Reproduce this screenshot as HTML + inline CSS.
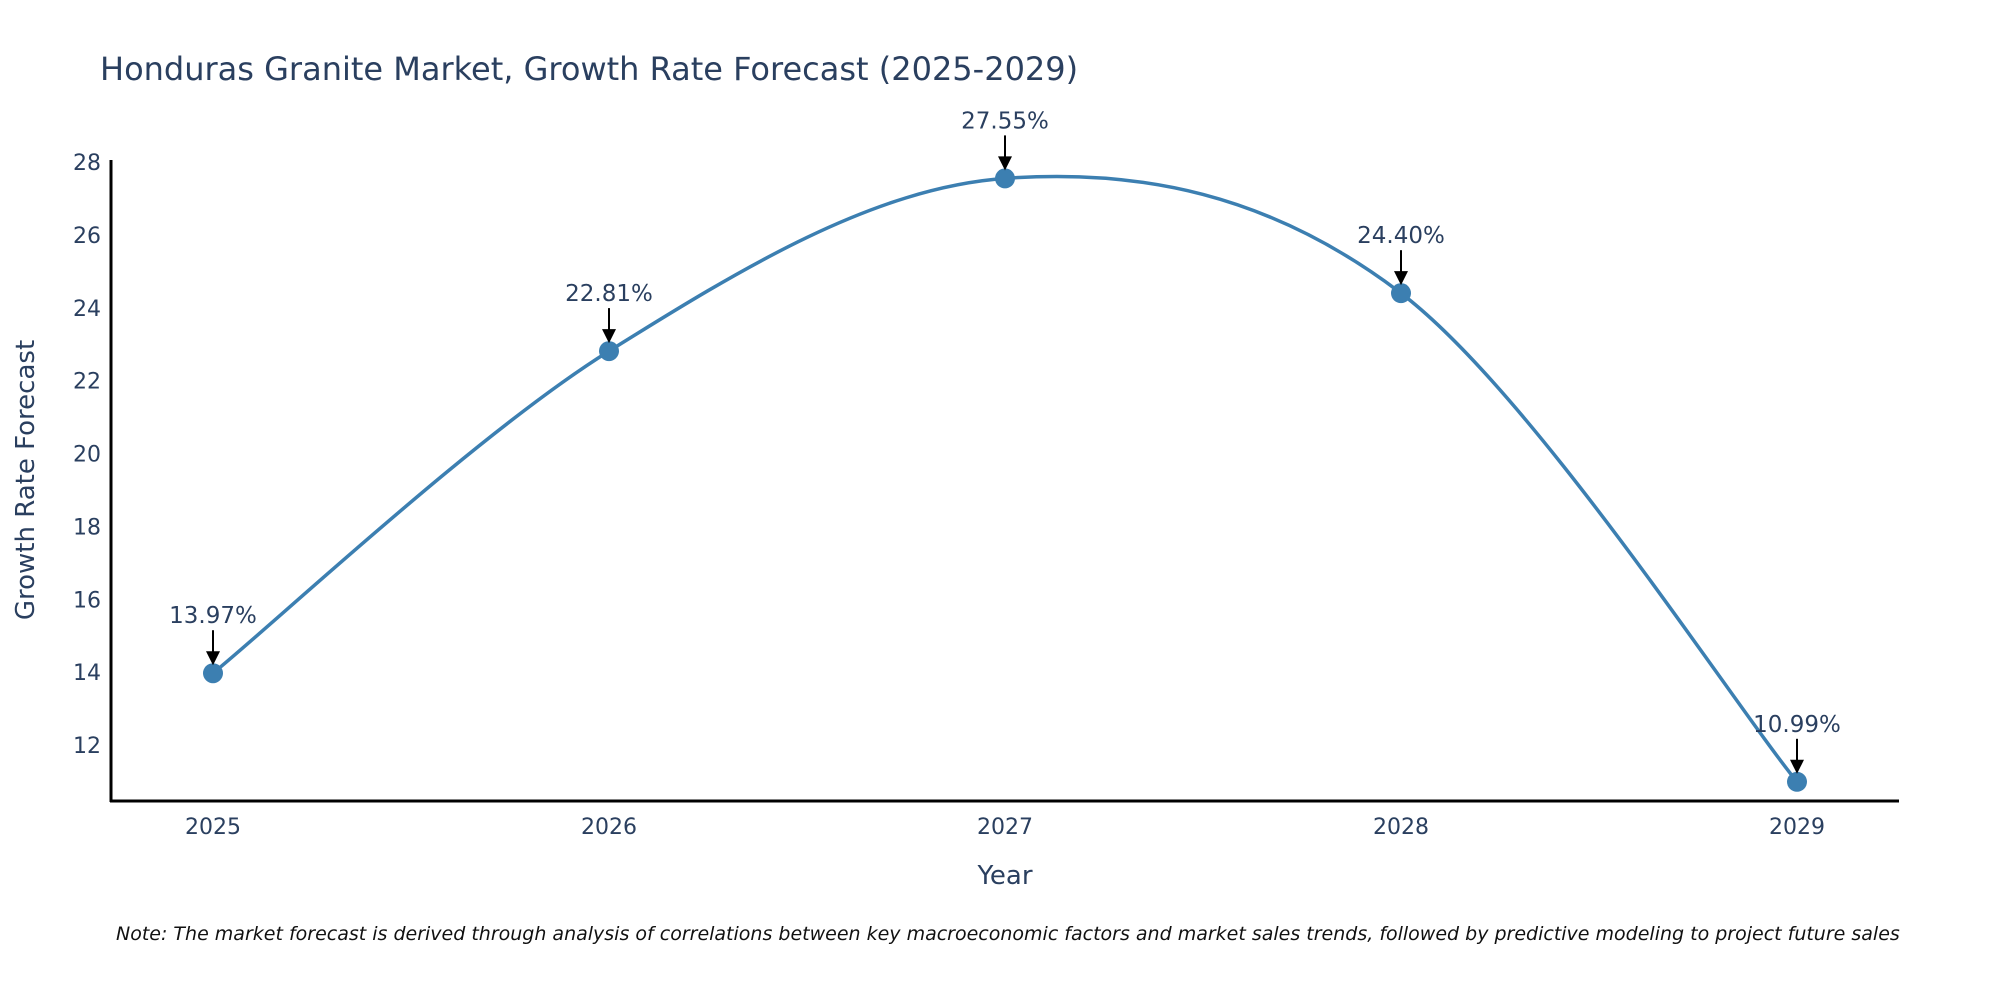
<!DOCTYPE html>
<html><head><meta charset="utf-8"><style>
body{margin:0;background:#fff;}
svg{display:block;font-family:"DejaVu Sans","Liberation Sans",sans-serif;}
</style></head><body>
<svg id="chart" width="2000" height="1000">
<text x="100" y="80" font-size="32" fill="#2a3f5f">Honduras Granite Market, Growth Rate Forecast (2025-2029)</text>
<g id="yticks"></g>
<g id="xticks"></g>
<line x1="111" y1="160" x2="111" y2="802" stroke="#000" stroke-width="3"/>
<line x1="110" y1="801" x2="1899" y2="801" stroke="#000" stroke-width="3"/>
<text transform="translate(34,480) rotate(-90)" text-anchor="middle" font-size="26" fill="#2a3f5f">Growth Rate Forecast</text>
<text x="1005" y="884" text-anchor="middle" font-size="26" fill="#2a3f5f">Year</text>
<path id="curve" fill="none" stroke="#3c7fb1" stroke-width="3.5"/>
<g id="points"></g>
<text x="116" y="940" font-size="19" font-style="italic" fill="#111">Note: The market forecast is derived through analysis of correlations between key macroeconomic factors and market sales trends, followed by predictive modeling to project future sales</text>
</svg>
<script>
const years=[2025,2026,2027,2028,2029];
const values=[13.97,22.81,27.55,24.40,10.99];
const labels=["13.97%","22.81%","27.55%","24.40%","10.99%"];
const yTicks=[12,14,16,18,20,22,24,26,28];
const NS="http://www.w3.org/2000/svg";
const X=v=>213+(v-2025)*(1797-213)/4;
const Y=v=>745-(v-12)*(745-162)/16;
function mk(tag,attrs,parent){const e=document.createElementNS(NS,tag);for(const k in attrs)e.setAttribute(k,attrs[k]);parent.appendChild(e);return e;}
const yt=document.getElementById('yticks');
yTicks.forEach(t=>{const e=mk('text',{x:101,y:Y(t)+8,'text-anchor':'end','font-size':22,fill:'#2a3f5f'},yt);e.textContent=t;

});
const xt=document.getElementById('xticks');
years.forEach(t=>{const e=mk('text',{x:X(t),y:834,'text-anchor':'middle','font-size':22,fill:'#2a3f5f'},xt);e.textContent=t;

});
const P=years.map((y,i)=>[X(y),Y(values[i])]);
let d=`M${P[0][0]},${P[0][1]}`;
for(let i=0;i<P.length-1;i++){const p0=P[Math.max(i-1,0)],p1=P[i],p2=P[i+1],p3=P[Math.min(i+2,P.length-1)];
const c1=[p1[0]+(p2[0]-p0[0])/6,p1[1]+(p2[1]-p0[1])/6],c2=[p2[0]-(p3[0]-p1[0])/6,p2[1]-(p3[1]-p1[1])/6];
d+=` C${c1[0]},${c1[1]} ${c2[0]},${c2[1]} ${p2[0]},${p2[1]}`;}
document.getElementById('curve').setAttribute('d',d);
const pg=document.getElementById('points');
P.forEach((p,i)=>{
const c=mk('circle',{cx:p[0],cy:p[1],r:10,fill:'#3c7fb1'},pg);


const l=mk('line',{x1:p[0],y1:p[1]-43,x2:p[0],y2:p[1]-20,stroke:'#000','stroke-width':2},pg);


const a=mk('polygon',{points:`${p[0]-7},${p[1]-22} ${p[0]+7},${p[1]-22} ${p[0]},${p[1]-8}`,fill:'#000'},pg);


const t=mk('text',{x:p[0],y:p[1]-50,'text-anchor':'middle','font-size':23,fill:'#2a3f5f'},pg);t.textContent=labels[i];


});
</script>
</body></html>
